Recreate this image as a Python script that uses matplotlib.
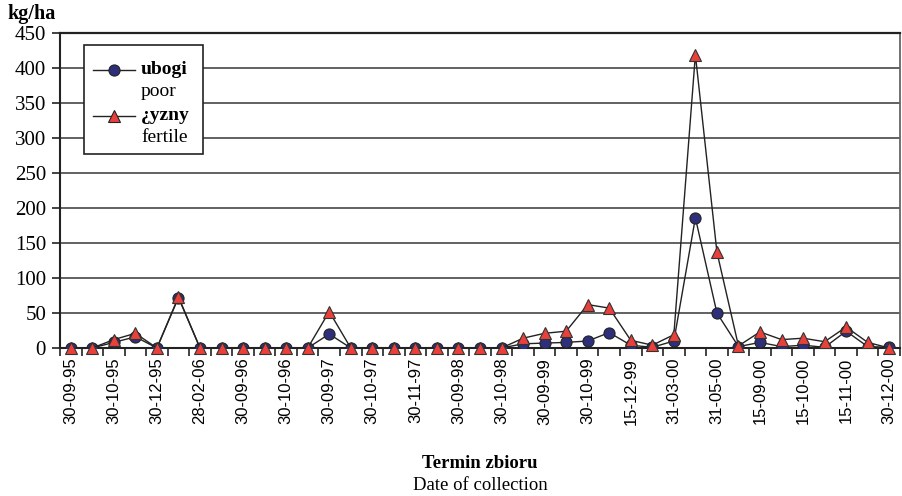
import numpy as np
import matplotlib.pyplot as plt
from matplotlib.lines import Line2D
from matplotlib.patches import Rectangle

# harvest dates (every other one is labelled on the axis)
dates = ['30-09-95', '30-10-95', '30-12-95', '28-02-06', '30-09-96',
         '30-10-96', '30-09-97', '30-10-97', '30-11-97', '30-09-98',
         '30-10-98', '30-09-99', '30-10-99', '15-12-99', '31-03-00',
         '31-05-00', '15-09-00', '15-10-00', '15-11-00', '30-12-00']

# yield in kg/ha, one value per collection
poor = [0, 0, 8, 16, 0, 72, 0, 0, 0, 0,
        0, 0, 20, 0, 0, 0, 0, 0, 0, 0,
        0, 6, 7, 8, 10, 22, 4, 1, 10, 186,
        50, 2, 8, 2, 4, 1, 24, 2, 1]
fertile = [0, 0, 12, 21, 0, 73, 0, 0, 0, 0,
           0, 0, 52, 0, 0, 0, 0, 0, 0, 0,
           0, 14, 21, 24, 62, 57, 11, 4, 19, 419,
           137, 3, 23, 12, 14, 9, 30, 8, 0]

n = len(poor)
x = np.arange(n)

serif = 'Liberation Serif'
sans = 'Liberation Sans'
navy = '#2e2f7a'
red = '#e8403a'
grey = '#555555'

fig = plt.figure(figsize=(9.02, 4.96), dpi=100)
ax = fig.add_axes([60 / 902, 1 - 348 / 496, 840 / 902, 315 / 496])

ax.plot(x, poor, color='#222222', lw=1.0, marker='o', ms=8,
        mfc=navy, mec='#222222', mew=0.8, zorder=3)
ax.plot(x, fertile, color='#222222', lw=1.0, marker='^', ms=9,
        mfc=red, mec='#333333', mew=0.8, zorder=4, clip_on=False)

ax.set_xlim(-0.5, n - 0.5)
ax.set_ylim(0, 450)
ax.set_yticks(np.arange(0, 451, 50))
ax.yaxis.grid(True, color=grey, lw=1.3)
ax.set_axisbelow(True)

# tick marks on category boundaries, labels on every other category
ax.set_xticks(np.arange(-0.5, n, 1))
ax.set_xticklabels([])
ax.set_xticks(x[::2], minor=True)
ax.set_xticklabels(dates, minor=True, rotation=90, fontfamily=sans,
                   fontsize=12)
ax.tick_params(axis='x', which='major', length=6, width=1.2, color='#222222')
ax.tick_params(axis='x', which='minor', length=0, pad=7)
ax.tick_params(axis='y', length=6, width=1.2, color='#222222', pad=4)
for lab in ax.get_yticklabels():
    lab.set_fontfamily(serif)
    lab.set_fontsize(15)

for side in ['left', 'bottom']:
    ax.spines[side].set_linewidth(1.5)
    ax.spines[side].set_color('#222222')
ax.spines['top'].set_linewidth(1.6)
ax.spines['top'].set_color('#222222')
ax.spines['right'].set_linewidth(1.3)
ax.spines['right'].set_color('#666666')

fig.text(7 / 902, 1 - 19 / 496, 'kg/ha', fontfamily=serif,
         fontweight='bold', fontsize=14.5)

# legend box drawn by hand (bold Polish name over English name)
box = Rectangle((0, 0), 1, 1, fc='white', ec='#222222', lw=1.2, zorder=5)
box.set_transform(fig.transFigure)
box.set_bounds(84 / 902, 1 - 154 / 496, 119 / 902, 109 / 496)
fig.add_artist(box)

entries = [(70, 'o', navy, 'ubogi', 'poor'),
           (116, '^', red, '¿yzny', 'fertile')]
for ypix, mk, col, name, eng in entries:
    yy = 1 - ypix / 496
    fig.add_artist(Line2D([93 / 902, 135 / 902], [yy, yy], color='#222222',
                          lw=1.0, zorder=6))
    fig.add_artist(Line2D([114 / 902], [yy], marker=mk,
                          ms=9 if mk == '^' else 8,
                          mfc=col, mec='#222222', mew=0.8, zorder=7))
    fig.text(141 / 902, yy, name, fontfamily=serif, fontweight='bold',
             fontsize=14, va='center', zorder=7)
    fig.text(141 / 902, yy - 22 / 496, eng, fontfamily=serif,
             fontsize=14, va='center', zorder=7)

fig.text(480 / 902, 1 - 464 / 496, 'Termin zbioru', fontfamily=serif,
         fontweight='bold', fontsize=13.5, ha='center', va='center')
fig.text(480 / 902, 1 - 485 / 496, 'Date of collection', fontfamily=serif,
         fontsize=13.5, ha='center', va='center')

fig.savefig('out.png', dpi=100)
